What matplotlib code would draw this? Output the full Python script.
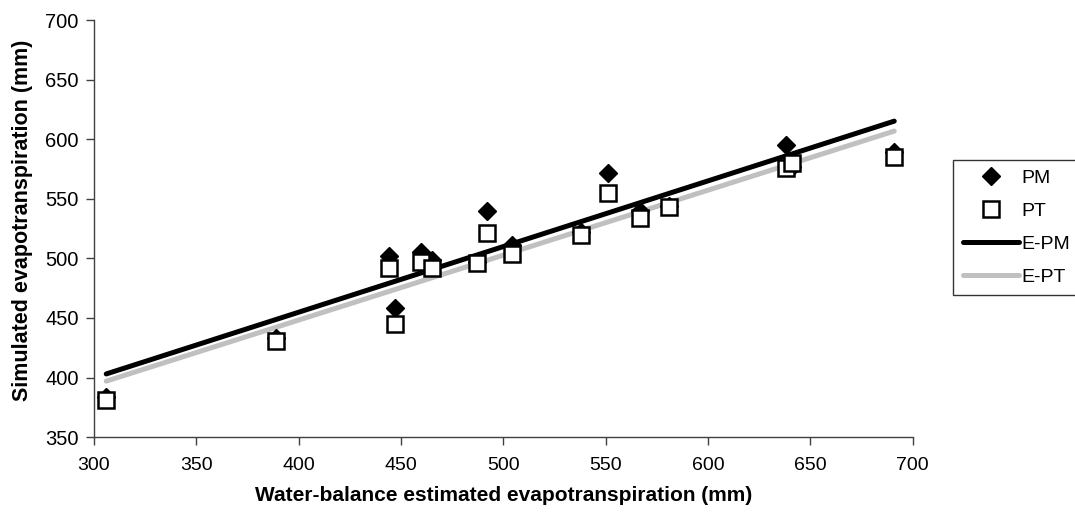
import matplotlib
matplotlib.use("Agg")
import matplotlib.pyplot as plt
import numpy as np

plt.rcParams['font.family'] = ['Liberation Sans', 'DejaVu Sans']

# Observed (water-balance) ET and simulated ET
x_obs = [306, 389, 444, 447, 460, 465, 487, 492, 504, 538, 551, 567, 581, 638, 641, 691]
pm_vals = [384, 433, 502, 458, 505, 499, 497, 540, 511, 522, 572, 540, 544, 595, 577, 589]
pt_vals = [381, 431, 492, 445, 497, 492, 496, 521, 504, 520, 555, 534, 543, 576, 580, 585]

# Trend lines (slope, intercept) over range
trend_x = [306, 691]
epm_coef = (0.551, 234.4)
ept_coef = (0.545, 230.2)

xticks = [300, 350, 400, 450, 500, 550, 600, 650, 700]
yticks = [350, 400, 450, 500, 550, 600, 650, 700]

fig = plt.figure(figsize=(10.75, 5.21), dpi=100)
ax = fig.add_axes([0.0874, 0.161, 0.7616, 0.8006])

tx = np.array(trend_x, dtype=float)
l1, = ax.plot(tx, epm_coef[0] * tx + epm_coef[1], color='black', lw=3.6, solid_capstyle='round', zorder=2, label='E-PM')
l2, = ax.plot(tx, ept_coef[0] * tx + ept_coef[1], color='#c0c0c0', lw=3.6, solid_capstyle='round', zorder=1, label='E-PT')
s1, = ax.plot(x_obs, pm_vals, linestyle='none', marker='D', ms=9, color='black', zorder=3, label='PM')
s2, = ax.plot(x_obs, pt_vals, linestyle='none', marker='s', ms=11.5, mfc='white', mec='black', mew=1.8, zorder=4, label='PT')

ax.set_xlim(300, 700)
ax.set_ylim(350, 700)
ax.set_xticks(xticks)
ax.set_yticks(yticks)
for s in ['top', 'right']:
    ax.spines[s].set_visible(False)
for s in ['left', 'bottom']:
    ax.spines[s].set_color('#404040')
    ax.spines[s].set_linewidth(1.0)
ax.tick_params(axis='both', direction='out', length=6, width=1, colors='#404040', labelcolor='black', labelsize=14)
ax.tick_params(axis='x', pad=8)
ax.tick_params(axis='y', pad=5, labelsize=14.5)
ax.set_xlabel('Water-balance estimated evapotranspiration (mm)', fontsize=15, fontweight='bold', labelpad=9)
ax.set_ylabel('Simulated evapotranspiration (mm)', fontsize=15.5, fontweight='bold')
ax.yaxis.set_label_coords(-0.074, 0.52)

leg = fig.legend(handles=[s1, s2, l1, l2], loc='upper left', bbox_to_anchor=(0.8865, 0.693),
                 fontsize=14, frameon=True, fancybox=False, edgecolor='black', handlelength=2.9,
                 handletextpad=0.1, borderpad=0.5, labelspacing=0.78, borderaxespad=0)
leg.get_frame().set_linewidth(1.0)

fig.savefig('out.png', dpi=100)
